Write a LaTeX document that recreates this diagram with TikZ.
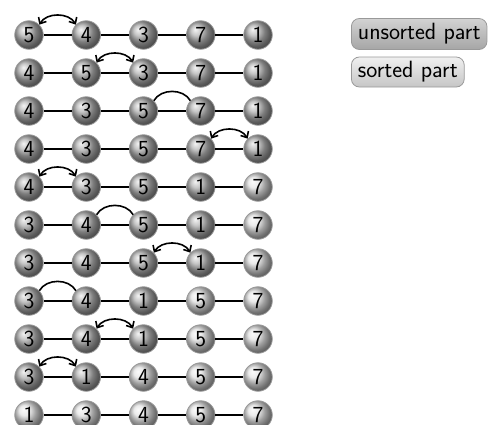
\documentclass[tikz,border=0pt]{standalone}
\usetikzlibrary{arrows.meta}
\begin{document}
\begin{tikzpicture}[x=1pt,y=-1pt,
  ballbase/.style={circle,draw=gray!80,line width=0.8pt,minimum size=28.5pt,inner sep=0pt,
    font=\sffamily\fontsize{23}{25}\selectfont},
  unsort/.style={ballbase,shading=ball,ball color=gray!60},
  sorted/.style={ballbase,shading=ball,ball color=gray!22},
  link/.style={line width=1.7pt},
  swaparc/.style={line width=1.6pt,{Straight Barb[length=5pt,width=9pt]}-{Straight Barb[length=5pt,width=9pt]},out=60,in=120},
  cmparc/.style={line width=1.6pt,out=60,in=120},
  legbox/.style={draw=gray!80,line width=0.8pt,rounded corners=8pt,anchor=west,
    font=\sffamily\fontsize{23.5}{25}\selectfont,inner xsep=6.5pt,inner ysep=2pt,minimum height=31pt}
]
\useasboundingbox (0,0) rectangle (494,424);
\foreach \r/\vals/\ns/\kind/\p in {
  0/{5,4,3,7,1}/5/s/0,
  1/{4,5,3,7,1}/5/s/1,
  2/{4,3,5,7,1}/5/c/2,
  3/{4,3,5,7,1}/5/s/3,
  4/{4,3,5,1,7}/4/s/0,
  5/{3,4,5,1,7}/4/c/1,
  6/{3,4,5,1,7}/4/s/2,
  7/{3,4,1,5,7}/3/c/0,
  8/{3,4,1,5,7}/3/s/1,
  9/{3,1,4,5,7}/2/s/0,
  10/{1,3,4,5,7}/0/n/0}{
  \foreach \v [count=\k from 0] in \vals {
    \pgfmathparse{\k<\ns ? "unsort" : "sorted"}
    \edef\sty{\pgfmathresult}
    \node[\sty] (n\r-\k) at ({29+57.25*\k},{35+38*\r}) {\v};
  }
  \foreach \k [evaluate=\k as \kk using int(\k+1)] in {0,...,3}
    \draw[link] (n\r-\k) -- (n\r-\kk);
  \pgfmathtruncatemacro{\q}{\p+1}
  \if s\kind
    \draw[swaparc] (n\r-\p.north east) to (n\r-\q.north west);
  \fi
  \if c\kind
    \draw[cmparc] (n\r-\p.north east) to (n\r-\q.north west);
  \fi
}
\node[legbox,top color=gray!35,bottom color=gray!70] (lu) at (351,34) {unsorted part};
\node[legbox,top color=gray!12,bottom color=gray!45,minimum height=30pt] (ls) at (351,72) {sorted part};
\end{tikzpicture}
\end{document}
